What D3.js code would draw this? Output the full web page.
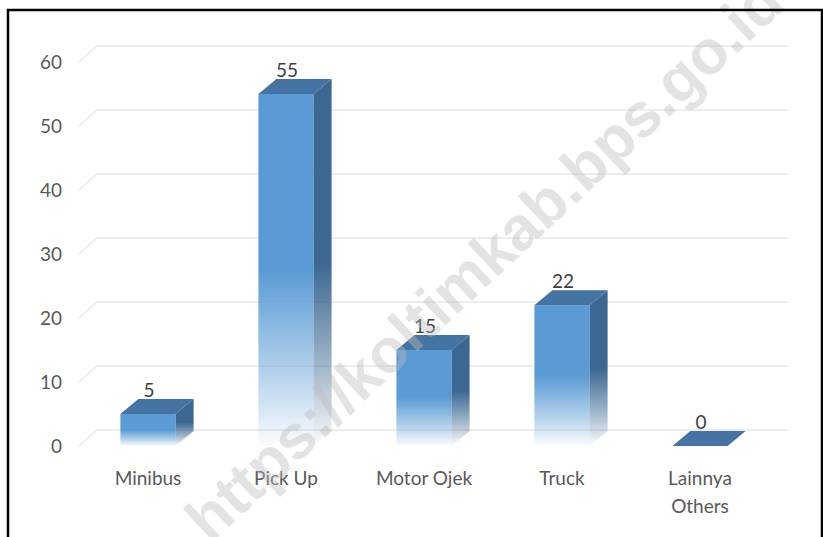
<!DOCTYPE html>
<html>
<head>
<meta charset="utf-8">
<script src="https://cdn.jsdelivr.net/npm/d3@7"></script>
<style>
  body { margin: 0; background: #fff; }
  svg { display: block; }
</style>
</head>
<body>
<div id="viz"></div>
<script>
const width = 823;
const height = 537;

// data
const categories = ['Minibus', 'Pick Up', 'Motor Ojek', 'Truck', 'Lainnya\nOthers'];
const values = [5, 55, 15, 22, 0];
const yTicks = [0, 10, 20, 30, 40, 50, 60];
const watermark = 'https://koltimkab.bps.go.id';

const depth = {dx: 18, dy: -15}; // 3d offset of the back wall
const barColor = '#5b9bd5';
const topColor = '#4573a2';
const sideColor = '#3b6791';
const font = 'Lato, "Open Sans", sans-serif';

const svg = d3.select('#viz')
  .append('svg')
    .attr('width', width)
    .attr('height', height);

const defs = svg.append('defs');

// fade to white at the foot of each bar
const fade = (id, color) => {
  const g = defs.append('linearGradient')
    .attr('id', id)
    .attr('x1', 0).attr('y1', 0).attr('x2', 0).attr('y2', 1);
  g.append('stop').attr('offset', 0).attr('stop-color', color);
  g.append('stop').attr('offset', 0.5).attr('stop-color', color);
  g.append('stop').attr('offset', 0.8).attr('stop-color', color).attr('stop-opacity', 0.45);
  g.append('stop').attr('offset', 1).attr('stop-color', color).attr('stop-opacity', 0.02);
};
fade('frontFade', barColor);
fade('sideFade', sideColor);

const xScale = d3.scaleBand()
  .domain(categories)
  .range([79, 769]);

const yScale = d3.scaleLinear()
  .domain([0, 60])
  .range([446, 62]);

const barWidth = xScale.bandwidth() * 0.4;

// gridlines: a short floor diagonal and a line on the back wall
svg.append('g')
  .selectAll('path')
  .data(yTicks)
  .join('path')
    .attr('d', d => {
      const y = yScale(d);
      return `M${xScale.range()[0]},${y} l${depth.dx},${depth.dy - 1} H${xScale.range()[1] + depth.dx + 1}`;
    })
    .attr('fill', 'none')
    .attr('stroke', '#e8e8e8')
    .attr('stroke-width', 1.5);

// y axis labels
svg.append('g')
  .selectAll('text')
  .data(yTicks)
  .join('text')
    .attr('x', 62)
    .attr('y', d => yScale(d))
    .attr('dy', '0.36em')
    .attr('text-anchor', 'end')
    .attr('font-family', font)
    .attr('font-size', 19)
    .attr('fill', '#595959')
    .text(d => d);

const bars = svg.append('g')
  .selectAll('g')
  .data(categories.map((c, i) => ({cat: c, value: values[i]})))
  .join('g');

const x0 = d => xScale(d.cat) + (xScale.bandwidth() - barWidth) / 2;

// front face
bars.append('rect')
  .attr('x', x0)
  .attr('y', d => yScale(d.value))
  .attr('width', barWidth)
  .attr('height', d => yScale(0) - yScale(d.value))
  .attr('fill', 'url(#frontFade)');

// side face
bars.filter(d => d.value > 0)
  .append('path')
  .attr('d', d => {
    const x = x0(d) + barWidth, yt = yScale(d.value), yb = yScale(0);
    return `M${x},${yt} l${depth.dx},${depth.dy} V${yb + depth.dy} l${-depth.dx},${-depth.dy} Z`;
  })
  .attr('fill', 'url(#sideFade)');

// top face
bars.append('path')
  .attr('d', d => {
    const x = x0(d), yt = yScale(d.value);
    return `M${x},${yt} h${barWidth} l${depth.dx},${depth.dy} h${-barWidth} Z`;
  })
  .attr('fill', topColor);

// value labels
bars.append('text')
  .attr('x', d => x0(d) + barWidth / 2 + 1)
  .attr('y', d => yScale(d.value) + depth.dy - 2)
  .attr('text-anchor', 'middle')
  .attr('font-family', font)
  .attr('font-size', 19)
  .attr('fill', '#404040')
  .text(d => d.value);

// category labels
svg.append('g')
  .selectAll('text')
  .data(categories)
  .join('text')
    .attr('x', d => xScale(d) + xScale.bandwidth() / 2)
    .attr('y', 485)
    .attr('text-anchor', 'middle')
    .attr('font-family', font)
    .attr('font-size', 19)
    .attr('fill', '#595959')
    .selectAll('tspan')
    .data(d => d.split('\n'))
    .join('tspan')
      .attr('x', function() { return this.parentNode.getAttribute('x'); })
      .attr('dy', (d, i) => i === 0 ? 0 : 28)
      .text(d => d);

// watermark over everything
svg.append('text')
  .attr('transform', 'translate(486,262) rotate(-43)')
  .attr('text-anchor', 'middle')
  .attr('dy', '0.3em')
  .attr('font-family', '"Liberation Sans", Arial, sans-serif')
  .attr('font-weight', 'bold')
  .attr('font-size', 62)
  .attr('fill', '#bdbdbd')
  .attr('fill-opacity', 0.42)
  .text(watermark);

// frame
svg.append('path')
  .attr('d', `M8,${height + 2} V10 H822 V${height + 2}`)
  .attr('fill', 'none')
  .attr('stroke', '#000')
  .attr('stroke-width', 2.5);
</script>
</body>
</html>
